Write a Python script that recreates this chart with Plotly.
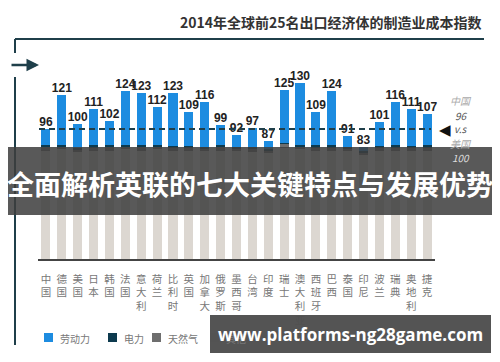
import plotly.graph_objects as go

countries = ["中国", "德国", "美国", "日本", "韩国", "法国", "意大利", "荷兰", "比利时", "英国",
             "加拿大", "俄罗斯", "墨西哥", "台湾", "印度", "瑞士", "澳大利亚", "西班牙", "巴西", "泰国",
             "印尼", "波兰", "瑞典", "奥地利", "捷克"]
totals = [96, 121, 100, 111, 102, 124, 123, 112, 123, 109,
          116, 99, 92, 97, 87, 125, 130, 109, 124, 91,
          83, 101, 116, 111, 107]
other = [80, 81, 79, 80, 80, 81, 80, 81, 80, 80,
         80, 80, 80, 79, 78, 82, 81, 80, 80, 80,
         77, 80, 80, 80, 80]
gas = [2.5, 2, 2, 2, 3, 2, 2.5, 2, 2, 2,
       2, 2.5, 2, 3, 2.5, 3, 2, 2, 2, 2,
       2, 2.5, 2, 2, 2]
electricity = [2, 1, 1, 2, 1, 1, 2, 1, 1.5, 1.5,
               1, 1.5, 1, 1, 1, 1, 1.5, 2, 2.5, 1,
               1, 1, 2, 1.5, 2]
labor = [t - o - g - e for t, o, g, e in zip(totals, other, gas, electricity)]
tick_labels = ["<br>".join(list(c)) for c in countries]

C_LABOR = "#1d8ce0"
C_ELEC = "#0d3a4e"
C_GAS = "#6e6e6e"
C_OTHER = "#dcd7d1"
C_LINE = "#1f3f4a"

# page has an 8px body margin: figure is placed at page (8, 8)
OFF = 8
W, H = 500 - OFF, 362 - OFF
L, R, T, B = 38 - OFF, 65, 70 - OFF, 103
PW, PH = W - L - R, H - T - B
def px(x):  # page pixel -> paper
    return (x - OFF - L) / PW
def py(y):
    return (T + PH - (y - OFF)) / PH

fig = go.Figure()
for name, vals, col in [("其他", other, C_OTHER), ("天然气", gas, C_GAS),
                        ("电力", electricity, C_ELEC), ("劳动力", labor, C_LABOR)]:
    fig.add_trace(go.Bar(x=countries, y=vals, name=name, marker=dict(color=col, line=dict(width=0)),
                         showlegend=False))

fig.add_trace(go.Scatter(x=countries, y=totals, mode="text", text=["<b>%d</b>" % v for v in totals],
                         textposition="top center", cliponaxis=False, showlegend=False,
                         textfont=dict(family="Liberation Sans Narrow, Arial Narrow, sans-serif",
                                       size=12, color="#222")))

shapes = []
shapes.append(dict(type="line", xref="paper", yref="y", x0=px(39), x1=px(431), y0=96, y1=96,
                   line=dict(color=C_LINE, width=2, dash="6px,4px"), layer="above"))
shapes.append(dict(type="line", xref="paper", yref="paper", x0=px(15), x1=px(484), y0=py(39), y1=py(39),
                   line=dict(color=C_LINE, width=2)))
shapes.append(dict(type="line", xref="paper", yref="paper", x0=px(15), x1=px(15), y0=py(39), y1=py(53),
                   line=dict(color=C_LINE, width=2)))
shapes.append(dict(type="line", xref="paper", yref="paper", x0=px(15), x1=px(15), y0=py(77), y1=py(345),
                   line=dict(color=C_LINE, width=2)))
shapes.append(dict(type="rect", xref="paper", yref="paper", x0=px(7), x1=px(502), y0=py(147), y1=py(215),
                   fillcolor="rgba(62,62,62,0.86)", line=dict(width=0), layer="above"))
legend_items = [("劳动力", C_LABOR, 44), ("电力", C_ELEC, 108), ("天然气", C_GAS, 152), ("其他", C_OTHER, 210)]
for _, col, x0 in legend_items:
    shapes.append(dict(type="rect", xref="paper", yref="paper", x0=px(x0), x1=px(x0 + 9),
                       y0=py(333), y1=py(342), fillcolor=col, line=dict(width=0)))
shapes.append(dict(type="rect", xref="paper", yref="paper", x0=px(210), x1=px(491), y0=py(315), y1=py(353),
                   fillcolor="rgba(78,78,78,0.97)", line=dict(width=0), layer="above"))

ann = []
def note(x, y, text, font, xanchor="center", **kw):
    ann.append(dict(xref="paper", yref="paper", x=px(x), y=py(y), text=text, showarrow=False,
                    xanchor=xanchor, yanchor="middle", font=font, **kw))

note(484, 22, "<b>2014年全球前25名出口经济体的制造业成本指数</b>",
     dict(family="Noto Sans CJK SC", size=14, color="#333"), xanchor="right")
ann.append(dict(xref="paper", yref="paper", x=px(39), y=py(65), ax=-29, ay=0, text="",
                showarrow=True, arrowhead=2, arrowsize=1, arrowwidth=2.5, arrowcolor=C_LINE))
ann.append(dict(xref="paper", yref="y", x=px(445), y=96, text="◀", showarrow=False,
                xanchor="center", yanchor="middle", font=dict(size=15, color="#111")))
for txt, y, col in [("<i>中国</i>", 100, "#aaa"), ("<i>96</i>", 115, "#555"), ("<i>v.s</i>", 128, "#555"),
                    ("<i>美国</i>", 143, "#aaa"), ("<i>100</i>", 157, "#ddd")]:
    note(461, y, txt, dict(family="Noto Sans CJK SC", size=10, color=col))
note(250, 183, "<b>全面解析英联的七大关键特点与发展优势</b>",
     dict(family="Noto Sans CJK SC", size=27, color="white"))
for txt, col, x0 in legend_items:
    note(x0 + 14, 338, txt, dict(family="Noto Sans CJK SC", size=10, color="#777"), xanchor="left")
note(350, 334, "<b>www.platforms-ng28game.com</b>", dict(family="Open Sans", size=17, color="white"))

fig.update_layout(
    width=W, height=H, margin=dict(l=L, r=R, t=T, b=B, autoexpand=False),
    paper_bgcolor="white", plot_bgcolor="white",
    barmode="stack", bargap=0.43,
    shapes=shapes, annotations=ann,
    xaxis=dict(tickmode="array", tickvals=countries, ticktext=tick_labels, showline=True,
               linecolor="#444", linewidth=2, ticks="", showgrid=False, zeroline=False,
               tickfont=dict(family="Noto Sans CJK SC", size=10.5, color="#777"), tickangle=0,
               ticklabelstandoff=9, range=[-0.5, 24.5], automargin=False),
    yaxis=dict(range=[0, 139.7], visible=False, showgrid=False, zeroline=False, automargin=False),
)

fig.write_html("out.html")
